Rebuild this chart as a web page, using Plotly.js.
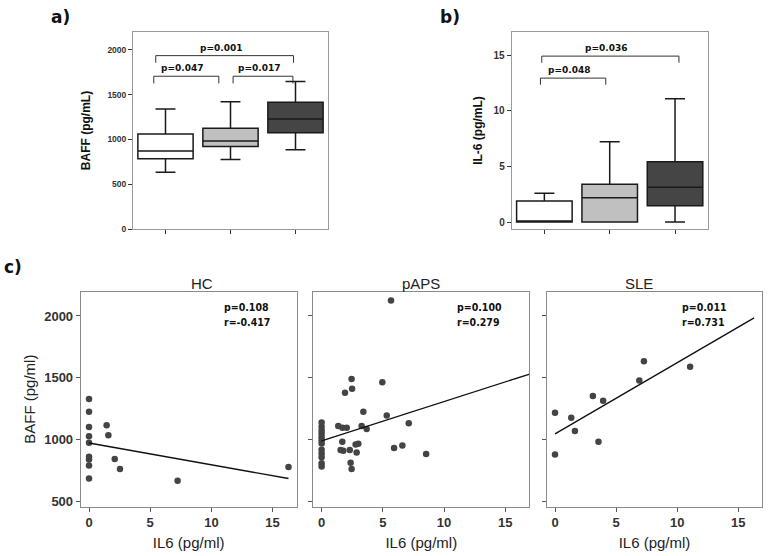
<!DOCTYPE html>
<html><head><meta charset="utf-8">
<script src="https://cdn.plot.ly/plotly-3.0.1.min.js"></script>
<style>html,body{margin:0;padding:0;background:#fff}#chart{width:770px;height:556px}</style>
</head><body><div id="chart"></div>
<script>
// ---------- data ----------
const groups = ['HC', 'pAPS', 'SLE'];
const boxFill = ['#ffffff', '#c0c0c0', '#454545'];

// a) BAFF (pg/mL) box statistics
const baffLower = [633, 775, 886];
const baffQ1 = [785, 920, 1076];
const baffMedian = [871, 983, 1229];
const baffQ3 = [1061, 1125, 1415];
const baffUpper = [1341, 1422, 1646];

// b) IL-6 (pg/mL) box statistics
const il6Lower = [0, 0, 0];
const il6Q1 = [0, 0, 1.47];
const il6Median = [0, 2.19, 3.12];
const il6Q3 = [1.89, 3.39, 5.43];
const il6Upper = [2.58, 7.23, 11.1];

// significance brackets (from, to in category units; level in data units)
const bracketLabelsA = ['p=0.047', 'p=0.017', 'p=0.001'];
const bracketFromA = [-0.18, 1.04, -0.15];
const bracketToA = [0.82, 1.96, 1.97];
const bracketLevelA = [1706, 1706, 1936];
const bracketDropA = 80;

const bracketLabelsB = ['p=0.048', 'p=0.036'];
const bracketFromB = [-0.06, -0.04];
const bracketToB = [0.94, 2.06];
const bracketLevelB = [12.95, 14.93];
const bracketDropB = 0.6;

// c) scatter: IL6 (x) vs BAFF (y)
const hcIL6 = [0, 0, 0, 0, 0, 0, 0, 0, 0, 1.44, 1.58, 2.1, 2.53, 7.24, 16.3];
const hcBAFF = [1329, 1227, 1103, 1028, 977, 863, 842, 793, 688, 1117, 1036, 845, 764, 670, 780];

const papsIL6 = [0, 0, 0, 0, 0, 0, 0, 0, 0, 0, 0, 0,
  5.67, 2.45, 4.96, 2.49, 1.91, 3.41, 5.32, 7.12, 1.36, 1.7, 2.05, 3.27, 3.68,
  1.69, 1.55, 1.77, 2.3, 2.78, 3.0, 2.86, 2.37, 2.45, 5.92, 6.6, 8.54];
const papsBAFF = [1140, 1105, 1075, 1050, 1020, 995, 970, 920, 890, 860, 810, 785,
  2124, 1491, 1464, 1413, 1381, 1227, 1197, 1133, 1111, 1098, 1098, 1111, 1088,
  985, 917, 912, 917, 963, 968, 898, 815, 764, 933, 955, 885];

const sleIL6 = [0, 0, 1.33, 1.63, 3.1, 3.94, 3.56, 6.9, 7.28, 11.06];
const sleBAFF = [1219, 882, 1179, 1071, 1354, 1316, 985, 1478, 1634, 1591];

const corrP = ['p=0.108', 'p=0.100', 'p=0.011'];
const corrR = ['r=-0.417', 'r=0.279', 'r=0.731'];
const fitEnd = [16.3, 17.0, 16.3];

// ---------- helpers ----------
function ols(xs, ys) {
  const n = xs.length;
  const mx = xs.reduce((a, b) => a + b, 0) / n;
  const my = ys.reduce((a, b) => a + b, 0) / n;
  let sxy = 0, sxx = 0;
  for (let i = 0; i < n; i++) { sxy += (xs[i] - mx) * (ys[i] - my); sxx += (xs[i] - mx) ** 2; }
  const b = sxy / sxx;
  return { a: my - b * mx, b: b };
}

const W = 770, H = 556;
const px = v => v / W;
const py = v => 1 - v / H;

const traces = [];
const shapes = [];
const annotations = [];

// ---------- box panels ----------
function addBoxes(xa, ya, lo, q1, med, q3, hi) {
  groups.forEach((g, i) => {
    traces.push({
      type: 'box', name: g, x: [i], xaxis: xa, yaxis: ya,
      lowerfence: [lo[i]], q1: [q1[i]], median: [med[i]], q3: [q3[i]], upperfence: [hi[i]],
      width: 0.85, whiskerwidth: 0.36, boxpoints: false,
      fillcolor: boxFill[i], line: { color: '#1a1a1a', width: 1.5 },
      hoverinfo: 'skip', showlegend: false
    });
  });
}
addBoxes('x', 'y', baffLower, baffQ1, baffMedian, baffQ3, baffUpper);
addBoxes('x2', 'y2', il6Lower, il6Q1, il6Median, il6Q3, il6Upper);

function addBrackets(xr, yr, from, to, level, drop, labels, textGap) {
  labels.forEach((lab, i) => {
    shapes.push({
      type: 'path', xref: xr, yref: yr,
      path: `M ${from[i]} ${level[i] - drop} L ${from[i]} ${level[i]} L ${to[i]} ${level[i]} L ${to[i]} ${level[i] - drop}`,
      line: { color: '#333', width: 1 }
    });
    annotations.push({
      xref: xr, yref: yr, x: (from[i] + to[i]) / 2, y: level[i], xshift: -4,
      yanchor: 'bottom', yshift: 1, showarrow: false, text: lab,
      font: { family: 'DejaVu Sans', size: 9, color: '#111', weight: 'bold' }
    });
  });
}
addBrackets('x', 'y', bracketFromA, bracketToA, bracketLevelA, bracketDropA, bracketLabelsA);
addBrackets('x2', 'y2', bracketFromB, bracketToB, bracketLevelB, bracketDropB, bracketLabelsB);

// ---------- scatter panels ----------
const scatterSets = [[hcIL6, hcBAFF], [papsIL6, papsBAFF], [sleIL6, sleBAFF]];
scatterSets.forEach((s, i) => {
  const xa = 'x' + (i + 3), ya = 'y' + (i + 3);
  traces.push({
    type: 'scatter', mode: 'markers', x: s[0], y: s[1], xaxis: xa, yaxis: ya,
    marker: { color: '#444444', size: 6.5 }, hoverinfo: 'skip', showlegend: false, cliponaxis: true
  });
  const f = ols(s[0], s[1]);
  traces.push({
    type: 'scatter', mode: 'lines', x: [0, fitEnd[i]], y: [f.a, f.a + f.b * fitEnd[i]],
    xaxis: xa, yaxis: ya, line: { color: '#111', width: 1.4 }, hoverinfo: 'skip', showlegend: false
  });
});

// ---------- layout ----------
const tickFontSmall = { family: 'Liberation Sans', size: 8.5, color: '#333', weight: 'bold' };
const tickFontBig = { family: 'Liberation Sans', size: 13, color: '#333', weight: 'bold' };
const frameSmall = { showline: true, mirror: true, linecolor: '#9a9a9a', linewidth: 1, zeroline: false, showgrid: false };
const frameBig = { showline: true, mirror: true, linecolor: '#8a8a8a', linewidth: 1, zeroline: false, showgrid: false };

const rowC = [py(506.7), py(291.7)];
const colsC = [[px(80.7), px(296.7)], [px(313.3), px(529.3)], [px(546.7), px(762.3)]];

const layout = {
  width: W, height: H, margin: { l: 0, r: 0, t: 0, b: 0 },
  paper_bgcolor: '#fff', plot_bgcolor: '#fff', showlegend: false,
  xaxis: Object.assign({}, frameSmall, {
    domain: [px(133), px(328)], range: [-0.5, 2.5], tickvals: [0, 1, 2], showticklabels: false,
    ticks: 'outside', ticklen: 4, tickcolor: '#333'
  }),
  yaxis: Object.assign({}, frameSmall, {
    domain: [py(229), py(32)], range: [0, 2200], tickvals: [0, 500, 1000, 1500, 2000],
    ticks: 'outside', ticklen: 4, tickcolor: '#333', tickfont: tickFontSmall,
    title: { text: 'BAFF (pg/mL)', standoff: 14, font: { family: 'Liberation Sans', size: 12, color: '#111', weight: 'bold' } }
  }),
  xaxis2: Object.assign({}, frameSmall, {
    domain: [px(511.7), px(707.7)], range: [-0.5, 2.5], tickvals: [0, 1, 2], showticklabels: false,
    ticks: 'outside', ticklen: 4, tickcolor: '#333', anchor: 'y2'
  }),
  yaxis2: Object.assign({}, frameSmall, {
    domain: [py(229), py(32)], range: [-0.63, 17.1], tickvals: [0, 5, 10, 15], anchor: 'x2',
    ticks: 'outside', ticklen: 4, tickcolor: '#333', tickfont: { family: 'Liberation Sans', size: 10, color: '#333', weight: 'bold' },
    title: { text: 'IL-6 (pg/mL)', standoff: 8, font: { family: 'Liberation Sans', size: 12, color: '#111', weight: 'bold' } }
  }),
  shapes: shapes, annotations: annotations
};

for (let i = 0; i < 3; i++) {
  const n = i + 3;
  layout['xaxis' + n] = Object.assign({}, frameBig, {
    domain: colsC[i], range: [-0.68, 16.97], tickvals: [0, 5, 10, 15], anchor: 'y' + n,
    ticks: 'outside', ticklen: 4, tickcolor: '#555', tickfont: tickFontBig,
    title: { text: 'IL6 (pg/ml)', standoff: 8, font: { family: 'Liberation Sans', size: 15, color: '#222' } }
  });
  const ya = Object.assign({}, frameBig, {
    domain: rowC, range: [460, 2196], tickvals: [500, 1000, 1500, 2000], anchor: 'x' + n,
    ticks: 'outside', ticklen: 4, tickcolor: '#555', tickfont: tickFontBig, showticklabels: i === 0
  });
  if (i === 0) ya.title = { text: 'BAFF (pg/ml)', standoff: 4, font: { family: 'Liberation Sans', size: 15, color: '#222' } };
  layout['yaxis' + n] = ya;
  // facet titles
  annotations.push({
    xref: 'paper', yref: 'paper', x: (colsC[i][0] + colsC[i][1]) / 2, y: py(283), yanchor: 'middle',
    showarrow: false, text: groups[i], font: { family: 'Liberation Sans', size: 15, color: '#222' }
  });
  // correlation stats
  annotations.push({
    xref: 'x' + n + ' domain', yref: 'paper', x: [0.655, 0.655, 0.618][i], y: py(307), xanchor: 'left', yanchor: 'middle',
    showarrow: false, text: corrP[i], font: { family: 'DejaVu Sans Condensed', size: 10.5, color: '#111', weight: 'bold' }
  });
  annotations.push({
    xref: 'x' + n + ' domain', yref: 'paper', x: [0.655, 0.655, 0.618][i], y: py(321.7), xanchor: 'left', yanchor: 'middle',
    showarrow: false, text: corrR[i], font: { family: 'DejaVu Sans Condensed', size: 10.5, color: '#111', weight: 'bold' }
  });
}

// panel letters
[['a)', 60, 17], ['b)', 450, 17], ['c)', 13, 267]].forEach(p => {
  annotations.push({
    xref: 'paper', yref: 'paper', x: px(p[1]), y: py(p[2]), xanchor: 'center', yanchor: 'middle',
    showarrow: false, text: p[0], font: { family: 'DejaVu Sans', size: 17, color: '#111', weight: 'bold' }
  });
});

Plotly.newPlot('chart', traces, layout, { displayModeBar: false, staticPlot: true });
</script>
</body></html>
